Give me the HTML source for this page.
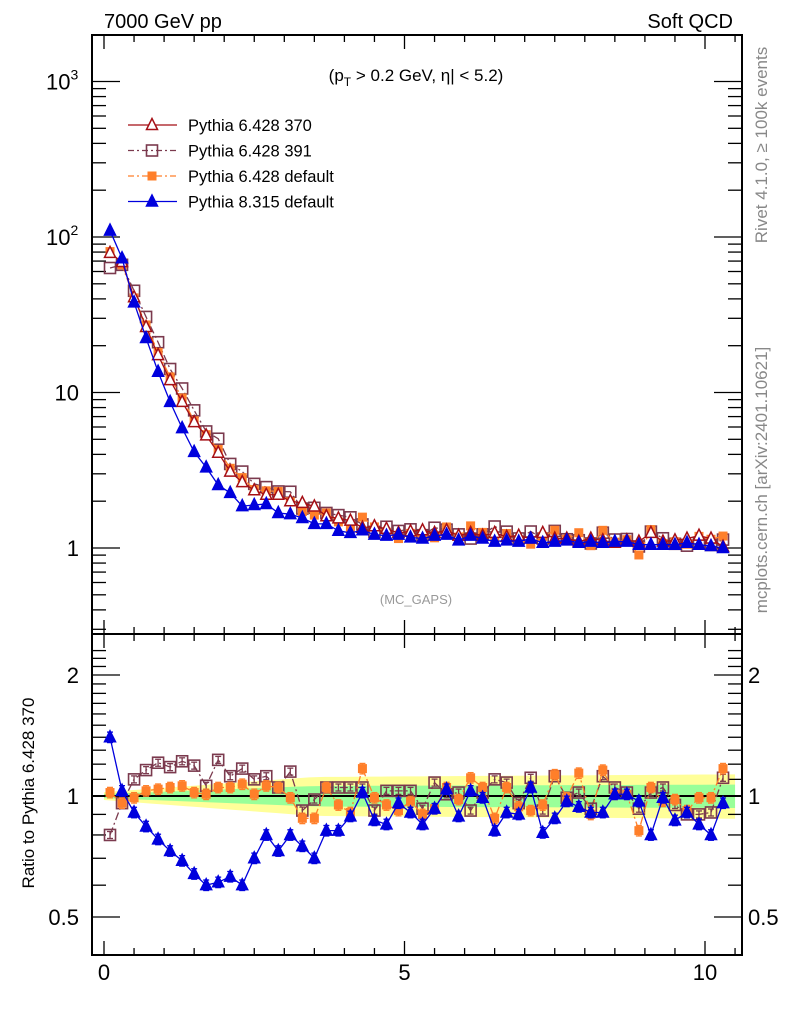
<!DOCTYPE html>
<html><head><meta charset="utf-8"><style>
body{margin:0;background:#fff}
svg{display:block;font-family:"Liberation Sans",sans-serif}
</style></head><body>
<svg id="chart" width="786" height="1024" viewBox="0 0 786 1024" xmlns="http://www.w3.org/2000/svg">
<text x="104" y="28" font-size="20">7000 GeV pp</text>
<text x="733" y="28" font-size="20" text-anchor="end">Soft QCD</text>
<text x="416" y="81" font-size="17" text-anchor="middle">(p<tspan font-size="12" dy="5">T</tspan><tspan dy="-5"> &gt; 0.2 GeV, η| &lt; 5.2)</tspan></text>
<text x="416" y="604" font-size="13" fill="#999" text-anchor="middle">(MC_GAPS)</text>
<text transform="translate(767,145) rotate(-90)" font-size="17" fill="#888" text-anchor="middle">Rivet 4.1.0, ≥ 100k events</text>
<text transform="translate(767,480) rotate(-90)" font-size="17" fill="#888" text-anchor="middle">mcplots.cern.ch [arXiv:2401.10621]</text>
<text transform="translate(34,793) rotate(-90)" font-size="17" text-anchor="middle">Ratio to Pythia 6.428 370</text>
<g id="bands"></g><g id="axes"></g><g id="series"></g><g id="legend"></g>
</svg>
<script>
const xs = [0.1,0.3,0.5,0.7,0.9,1.1,1.3,1.5,1.7,1.9,2.1,2.3,2.5,2.7,2.9,3.1,3.3,3.5,3.7,3.9,4.1,4.3,4.5,4.7,4.9,5.1,5.3,5.5,5.7,5.9,6.1,6.3,6.5,6.7,6.9,7.1,7.3,7.5,7.7,7.9,8.1,8.3,8.5,8.7,8.9,9.1,9.3,9.5,9.7,9.9,10.1,10.3];
const ref370 = [79,69,41,26.4,17.4,12.0,8.7,6.45,5.3,4.1,3.1,2.65,2.35,2.2,2.2,2.0,1.95,1.85,1.6,1.55,1.5,1.35,1.38,1.33,1.25,1.28,1.3,1.25,1.3,1.2,1.25,1.2,1.25,1.18,1.2,1.15,1.25,1.15,1.15,1.1,1.15,1.12,1.08,1.12,1.1,1.25,1.1,1.12,1.15,1.2,1.15,1.02];
const p8main = [110,73,38,22.4,13.6,8.7,5.9,4.15,3.3,2.54,2.26,1.86,1.89,1.92,1.68,1.65,1.56,1.43,1.43,1.29,1.25,1.3,1.22,1.2,1.22,1.17,1.15,1.2,1.22,1.12,1.2,1.15,1.1,1.12,1.1,1.15,1.08,1.1,1.12,1.08,1.1,1.08,1.1,1.1,1.05,1.05,1.05,1.05,1.08,1.05,1.03,1.0];
const p8ratio = [1.40,1.03,0.91,0.84,0.78,0.73,0.69,0.64,0.60,0.61,0.63,0.60,0.70,0.80,0.73,0.80,0.75,0.70,0.82,0.82,0.89,1.02,0.87,0.85,0.96,0.91,0.85,0.93,1.04,0.89,1.03,0.99,0.82,0.91,0.90,1.05,0.81,0.88,0.97,0.94,0.91,0.91,1.01,1.01,0.97,0.80,0.99,0.87,0.91,0.85,0.80,0.96];
const p6defRatio = [1.02,0.96,0.99,1.03,1.04,1.05,1.06,1.02,1.01,1.05,1.05,1.07,1.01,1.06,1.05,0.99,0.88,0.88,1.05,0.95,0.91,1.17,0.99,0.95,0.92,0.97,0.90,0.93,1.05,0.98,1.11,1.05,0.88,1.05,0.94,0.92,0.95,1.13,0.99,1.14,0.90,1.16,1.01,1.01,0.82,1.05,0.97,0.98,0.92,0.99,0.99,1.17];
const p391Ratio = [0.80,0.96,1.10,1.16,1.21,1.18,1.22,1.19,1.06,1.23,1.12,1.17,1.10,1.12,1.05,1.15,0.92,0.98,1.05,1.05,1.05,1.05,0.92,1.03,1.03,1.03,0.93,1.08,1.01,1.02,0.92,1.02,1.10,1.08,0.96,1.11,0.92,1.12,0.99,1.02,0.93,1.12,1.05,1.02,0.93,1.02,1.05,0.95,0.90,0.90,0.91,1.11];
const xTicks = [0,5,10];
const mainTickLabels = [[3,"3"],[2,"2"],[1,"10"],[0,"1"]];
const ratioTicks = [2,1,0.5];

const NS="http://www.w3.org/2000/svg";
const X = v => 104 + 60.1*v;
const YM = v => 548 - 155.5*Math.log10(v);
const YR = v => 796 - 402*Math.log10(v);
const L=92,R=742,T=35,MB=634,RB=955;
function mk(tag, attrs, parent){const e=document.createElementNS(NS,tag);for(const k in attrs)e.setAttribute(k,attrs[k]);(parent||document.getElementById('chart')).appendChild(e);return e;}
const gB=document.getElementById('bands'),gA=document.getElementById('axes'),gS=document.getElementById('series'),gL=document.getElementById('legend');

function bandPath(w){let up=[],dn=[];for(let i=0;i<=40;i++){const xv=i*10.5/40;const f=Math.min(1,xv/3.5)*0.8+0.2+Math.max(0,xv-3.5)*0.02;up.push([X(xv),796-w*f]);dn.push([X(xv),796+w*f*1.05]);}return 'M'+up.map(p=>p.join(',')).join('L')+'L'+dn.reverse().map(p=>p.join(',')).join('L')+'Z';}
const yb=mk('path',{d:bandPath(19),fill:'#ffff99'},gB);


const gbd=mk('path',{d:bandPath(10),fill:'#99ff99'},gB);



const f1=mk('rect',{x:L,y:T,width:R-L,height:MB-T,fill:'none',stroke:'#000','stroke-width':2},gA);


const f2=mk('rect',{x:L,y:MB,width:R-L,height:RB-MB,fill:'none',stroke:'#000','stroke-width':2},gA);


const one=mk('line',{x1:L,x2:R,y1:YR(1),y2:YR(1),stroke:'#000','stroke-width':2},gA);



for(let v=0;v<=10.5;v+=0.5){const maj=Math.abs(v%5)<1e-6;const len=maj?14:7;const x=X(v);
 for(const [yt,yb2] of [[T,MB],[MB,RB]]){mk('line',{x1:x,x2:x,y1:yt,y2:yt+len,stroke:'#000','stroke-width':1.3},gA);mk('line',{x1:x,x2:x,y1:yb2,y2:yb2-len,stroke:'#000','stroke-width':1.3},gA);}}
xTicks.forEach(v=>{const t=mk('text',{x:X(v),y:980,'font-size':22,'text-anchor':'middle'},gA);t.textContent=v;
 
 });

for(let d=-1;d<=3;d++){for(let m=1;m<=9;m++){const v=m*Math.pow(10,d);const y=YM(v);if(y<T||y>MB)continue;const len=m===1?28:14;
 mk('line',{x1:L,x2:L+len,y1:y,y2:y,stroke:'#000','stroke-width':1.3},gA);mk('line',{x1:R,x2:R-len,y1:y,y2:y,stroke:'#000','stroke-width':1.3},gA);}}
mainTickLabels.forEach(([p,s])=>{const y=YM(Math.pow(10,p))+8;let t;
 if(p>=2){t=mk('text',{x:46,y:y,'font-size':22},gA);t.innerHTML='10<tspan font-size="14" dy="-10">'+s+'</tspan>';}
 else {t=mk('text',{x:79,y:y,'font-size':22,'text-anchor':'end'},gA);t.textContent=s;}
 
 });

[0.5,0.6,0.7,0.8,0.9,1,1.1,1.2,1.3,1.4,1.5,1.6,1.7,1.8,1.9,2,2.1,2.2,2.3].forEach(v=>{const y=YR(v);if(y<MB||y>RB)return;const maj=[0.5,1,2].includes(v);const len=maj?28:14;
 mk('line',{x1:L,x2:L+len,y1:y,y2:y,stroke:'#000','stroke-width':1.3},gA);mk('line',{x1:R,x2:R-len,y1:y,y2:y,stroke:'#000','stroke-width':1.3},gA);});
ratioTicks.forEach(v=>{const y=YR(v)+8;
 const t=mk('text',{x:79,y:y,'font-size':22,'text-anchor':'end'},gA);t.textContent=v;
 
 
 const t2=mk('text',{x:748,y:y,'font-size':22},gA);t2.textContent=v;
 
 });

function marker(kind,cx,cy,g,col){
 if(kind==='tri'||kind==='trif'){const s=5.5;return mk('polygon',{points:`${cx},${cy-s-1} ${cx-s},${cy+s-1} ${cx+s},${cy+s-1}`,fill:kind==='trif'?col:'#fff',stroke:col,'stroke-width':1.5},g);}
 if(kind==='sq'){return mk('rect',{x:cx-5.5,y:cy-5.5,width:11,height:11,fill:'none',stroke:col,'stroke-width':1.6},g);}
 return mk('rect',{x:cx-4.5,y:cy-4.5,width:9,height:9,fill:col},g);}
const series=[
 {name:'pythia-6428-391',col:'#7b3a4e',kind:'sq',dash:'8,3,2,3',main:ref370.map((v,i)=>v*p391Ratio[i]),ratio:p391Ratio,err:0.02},
 {name:'pythia-6428-default',col:'#ff7f2a',kind:'sqf',dash:'8,3,2,3',main:ref370.map((v,i)=>v*p6defRatio[i]),ratio:p6defRatio,err:0.03},
 {name:'pythia-6428-370',col:'#a50f15',kind:'tri',dash:'',main:ref370,ratio:xs.map(()=>1),err:0},
 {name:'pythia-8315-default',col:'#0000dd',kind:'trif',dash:'',main:p8main,ratio:p8ratio,err:0.03}];
series.forEach(s=>{
 const g=mk('g',{},gS);
 
 
 const ptsM=xs.map((x,i)=>X(x)+','+YM(s.main[i])).join(' ');
 const lm=mk('polyline',{points:ptsM,fill:'none',stroke:s.col,'stroke-width':1.3,'stroke-dasharray':s.dash},g);
 
 
 xs.forEach((x,i)=>{const m=marker(s.kind,X(x),YM(s.main[i]),g,s.col);
  
  });
 if(s.kind==='tri')return;
 const ptsR=xs.map((x,i)=>X(x)+','+YR(s.ratio[i])).join(' ');
 const lr=mk('polyline',{points:ptsR,fill:'none',stroke:s.col,'stroke-width':1.3,'stroke-dasharray':s.dash},g);
 
 
 xs.forEach((x,i)=>{const cx=X(x),r=s.ratio[i];const y1=YR(r*(1+s.err)),y2=YR(r*(1-s.err));
  mk('line',{x1:cx,x2:cx,y1:y1,y2:y2,stroke:s.col,'stroke-width':1.3},g);
  mk('line',{x1:cx-3,x2:cx+3,y1:y1,y2:y1,stroke:s.col,'stroke-width':1.3},g);
  mk('line',{x1:cx-3,x2:cx+3,y1:y2,y2:y2,stroke:s.col,'stroke-width':1.3},g);
  const m=marker(s.kind,cx,YR(r),g,s.col);
  
  });
});

const leg=[['Pythia 6.428 370','#a50f15','tri',''],['Pythia 6.428 391','#7b3a4e','sq','6,3,2,3'],['Pythia 6.428 default','#ff7f2a','sqf','6,3,2,3'],['Pythia 8.315 default','#0000dd','trif','']];
leg.forEach((e,i)=>{const y=125+i*25.5;const g=mk('g',{},gL);
 
 
 mk('line',{x1:128,x2:177,y1:y,y2:y,stroke:e[1],'stroke-width':1.3,'stroke-dasharray':e[3]},g);
 marker(e[2],152,y,g,e[1]);
 const t=mk('text',{x:188,y:y+6,'font-size':16.5},g);t.textContent=e[0];});
</script>
</body></html>
